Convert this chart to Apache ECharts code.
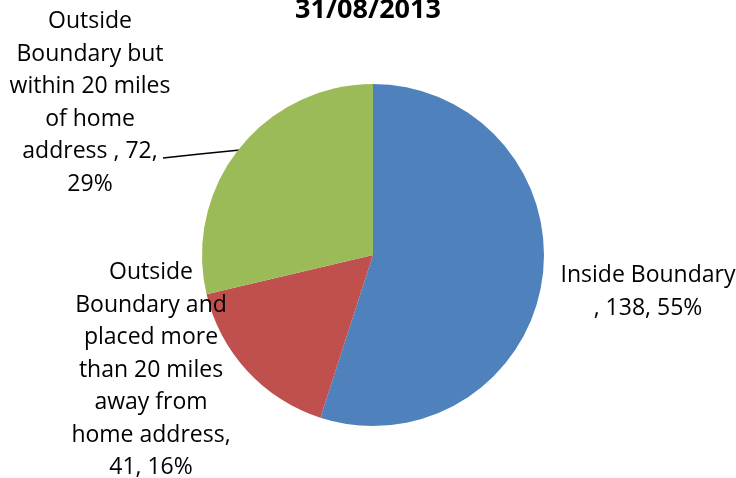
<!DOCTYPE html>
<html><head><meta charset="utf-8">
<script src="https://cdn.jsdelivr.net/npm/echarts@6/dist/echarts.min.js"></script>
<style>html,body{margin:0;padding:0;background:#fff}#c{width:736px;height:478px}</style>
</head><body><div id="c"></div>
<script>
const titleText = '31/08/2013';
const categories = ['Inside Boundary', 'Outside Boundary and placed more than 20 miles away from home address', 'Outside Boundary but within 20 miles of home address'];
const values = [138, 41, 72];
// displayed label lines (wrapping as in the reference)
const labelWraps = [
  ['Inside Boundary', ', {v}, {p}'],
  ['Outside', 'Boundary and', 'placed more', 'than 20 miles', 'away from', 'home address,', '{v}, {p}'],
  ['Outside', 'Boundary but', 'within 20 miles', 'of home', 'address , {v},', '{p}']
];
const colors = ['#4F81BD', '#C0504D', '#9BBB59'];
const labelPos = [[648, 292], [151, 370], [90, 103]];

const chart = echarts.init(document.getElementById('c'));
chart.setOption({
  animation: false,
  title: { text: titleText, left: 'center', top: -8,
    textStyle: { fontFamily: 'Open Sans', fontWeight: 'bold', fontSize: 27, color: '#000' } },
  series: [{
    type: 'pie',
    center: [373, 255],
    radius: 171,
    startAngle: 90,
    clockwise: true,
    percentPrecision: 0,
    data: categories.map((c, i) => ({
      name: c, value: values[i],
      itemStyle: { color: colors[i] },
      labelLine: { show: i === 2 }
    })),
    label: {
      show: true, position: 'outside', color: '#000',
      fontFamily: 'Open Sans', fontSize: 23, lineHeight: 32.5,
      overflow: 'none', width: 300,
      formatter: p => labelWraps[p.dataIndex].join('\n').replace('{v}', p.value).replace('{p}', Math.round(p.percent) + '%')
    },
    labelLine: { show: true, lineStyle: { color: '#000', width: 1.5 } },
    labelLayout: function (params) {
      const i = params.dataIndex;
      const r = { x: labelPos[i][0], y: labelPos[i][1], align: 'center', verticalAlign: 'middle', hideOverlap: false };
      if (i === 2) r.labelLinePoints = [[240, 150], [200, 154], [163, 158]];
      return r;
    }
  }]
});
</script></body></html>
